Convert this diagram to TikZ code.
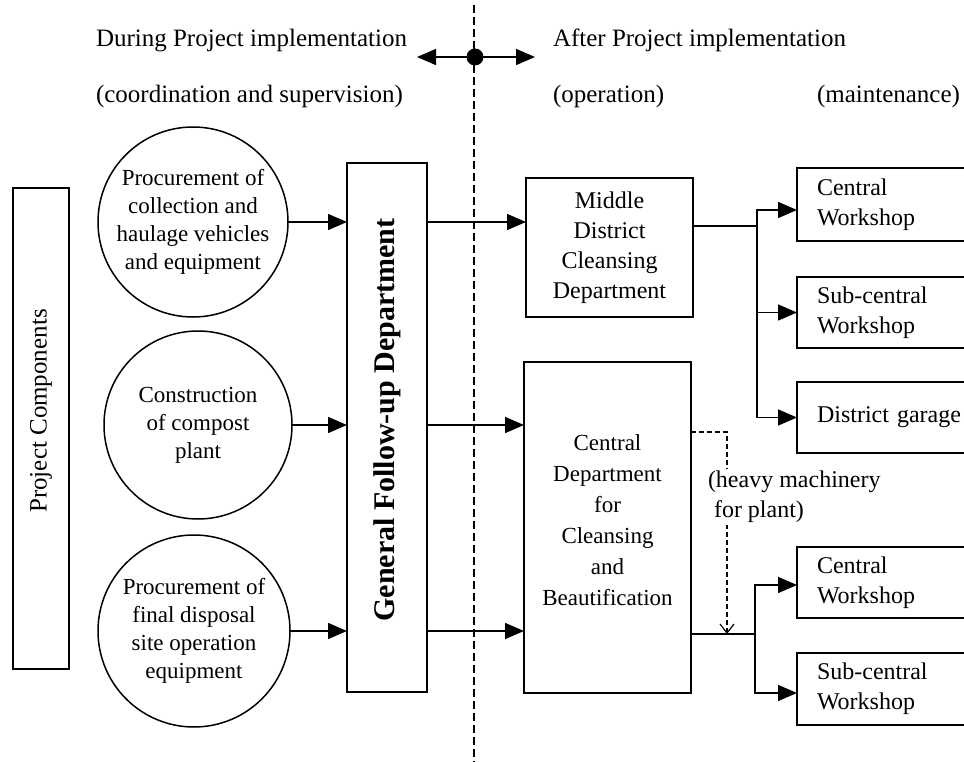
\documentclass[tikz,border=0pt]{standalone}
\usepackage{fontspec}
\setmainfont{Liberation Serif}
\usetikzlibrary{arrows.meta,calc}
\begin{document}
\begin{tikzpicture}[x=1pt,y=-1pt,
  every node/.style={inner sep=0pt, outer sep=0pt},
  box/.style={draw, line width=1.5pt},
  arr/.style={line width=1.5pt, -{Triangle[length=19pt,width=16pt]}},
  ln/.style={line width=1.5pt},
  txt/.style={align=center, font=\fontsize{24}{30}\selectfont},
  ctxt/.style={align=center, font=\fontsize{23}{28}\selectfont},
  htxt/.style={anchor=base west, font=\fontsize{25}{30}\selectfont},
  rbox/.style={draw, line width=1.5pt, minimum width=200pt, text width=160pt, inner xsep=20pt, align=left, font=\fontsize{24}{30}\selectfont},
  vdash/.style={line width=1.5pt, dash pattern=on 8pt off 4pt},
  hdash/.style={line width=1.2pt, dash pattern=on 5pt off 3pt, -{Straight Barb[length=9pt,width=14pt]}}
]
\useasboundingbox (0,0) rectangle (964,762);

% headers
\node[htxt] (h1) at (96,47) {During Project implementation};
\node[htxt] (h2) at (553,47) {After Project implementation};
\node[htxt] (h3) at (96,103) {(coordination and supervision)};
\node[htxt] (h4) at (553,103) {(operation)};
\node[htxt] (h5) at (817,103) {(maintenance)};

% vertical dashed divider
\coordinate (vt) at (474,5);
\coordinate (vb) at (474,762);
\draw[vdash] (vt) -- (vb);

% double arrow with dot
\node[circle, fill, minimum size=17pt] (dot) at (475,57) {};
\coordinate (la) at (417,57);
\coordinate (ra) at (535,57);
\draw[arr] (dot.center) -- (la);
\draw[arr] (dot.center) -- (ra);

% project components
\node[box, minimum width=56pt, minimum height=481pt] (pc) at (41,428.5) {};
\node[rotate=90, font=\fontsize{25}{30}\selectfont] (pct) at (41,411) {Project Components};

% circles
\node[draw, circle, line width=1.5pt, minimum size=190pt, ctxt] (c1) at (193,222) {Procurement of\\collection and\\haulage vehicles\\and equipment};
\node[draw, circle, line width=1.5pt, minimum size=188pt, ctxt] (c2) at (198,425) {Construction\\of compost\\plant};
\node[draw, circle, line width=1.5pt, minimum size=192pt, ctxt] (c3) at (194,631) {Procurement of\\final disposal\\site operation\\equipment};

% general follow-up
\node[box, minimum width=80pt, minimum height=529pt] (gen) at (387,427.5) {};
\node[rotate=90, font=\fontsize{30}{36}\selectfont\bfseries] (gent) at (387,420) {General Follow-up Department};

% middle district
\node[box, minimum width=167pt, minimum height=139pt, txt] (mid) at (609.5,247.5) {Middle\\District\\Cleansing\\Department};

% central department
\node[box, minimum width=167pt, minimum height=331pt] (cd) at (607.5,527.5) {};
\node[align=center, font=\fontsize{23}{31}\selectfont] (cdt) at (607.5,520) {Central\\Department\\for\\Cleansing\\and\\Beautification};

% right boxes
\node[rbox, minimum height=73pt] (cw1) at (897,204.5) {Central\\Workshop};
\node[rbox, minimum height=71pt] (sc1) at (897,312.5) {Sub-central\\Workshop};
\node[rbox, minimum height=71pt] (dg) at (897,417.5) {District garage};
\node[rbox, minimum height=71pt] (cw2) at (897,582.5) {Central\\Workshop};
\node[rbox, minimum height=72pt] (sc2) at (897,689) {Sub-central\\Workshop};

% connectors circles -> general
\draw[arr] (c1.east) -- (c1.east -| gen.west);
\draw[arr] (c2.east) -- (c2.east -| gen.west);
\draw[arr] (c3.east) -- (c3.east -| gen.west);

% general -> departments
\draw[arr] (gen.east |- c1.east) -- (mid.west |- c1.east);
\draw[arr] (gen.east |- c2.east) -- (cd.west |- c2.east);
\draw[arr] (gen.east |- c3.east) -- (cd.west |- c3.east);

% middle -> workshops
\coordinate (j1) at (757,226);
\draw[ln] (mid.east |- j1) -- (j1);
\draw[arr] (j1) |- ([yshift=-5.5pt]cw1.west);
\draw[arr] (j1) |- (sc1.west);
\draw[arr] (j1) |- (dg.west);

% central -> workshops
\coordinate (j2) at (755,634);
\draw[ln] (cd.east |- j2) -- (j2);
\draw[arr] (j2) |- ([yshift=-2.5pt]cw2.west);
\draw[arr] (j2) |- ([yshift=-4pt]sc2.west);

% heavy machinery dashed
\coordinate (hs) at (cd.east |- 0,432);
\coordinate (he) at (727,634);
\draw[hdash] (hs) -| (he);
\node[fill=white, anchor=west, align=left, inner sep=2pt, font=\fontsize{24}{30}\selectfont] (hml) at (706,497) {(heavy machinery\\\hspace{6pt}for plant)};

\end{tikzpicture}
\end{document}
